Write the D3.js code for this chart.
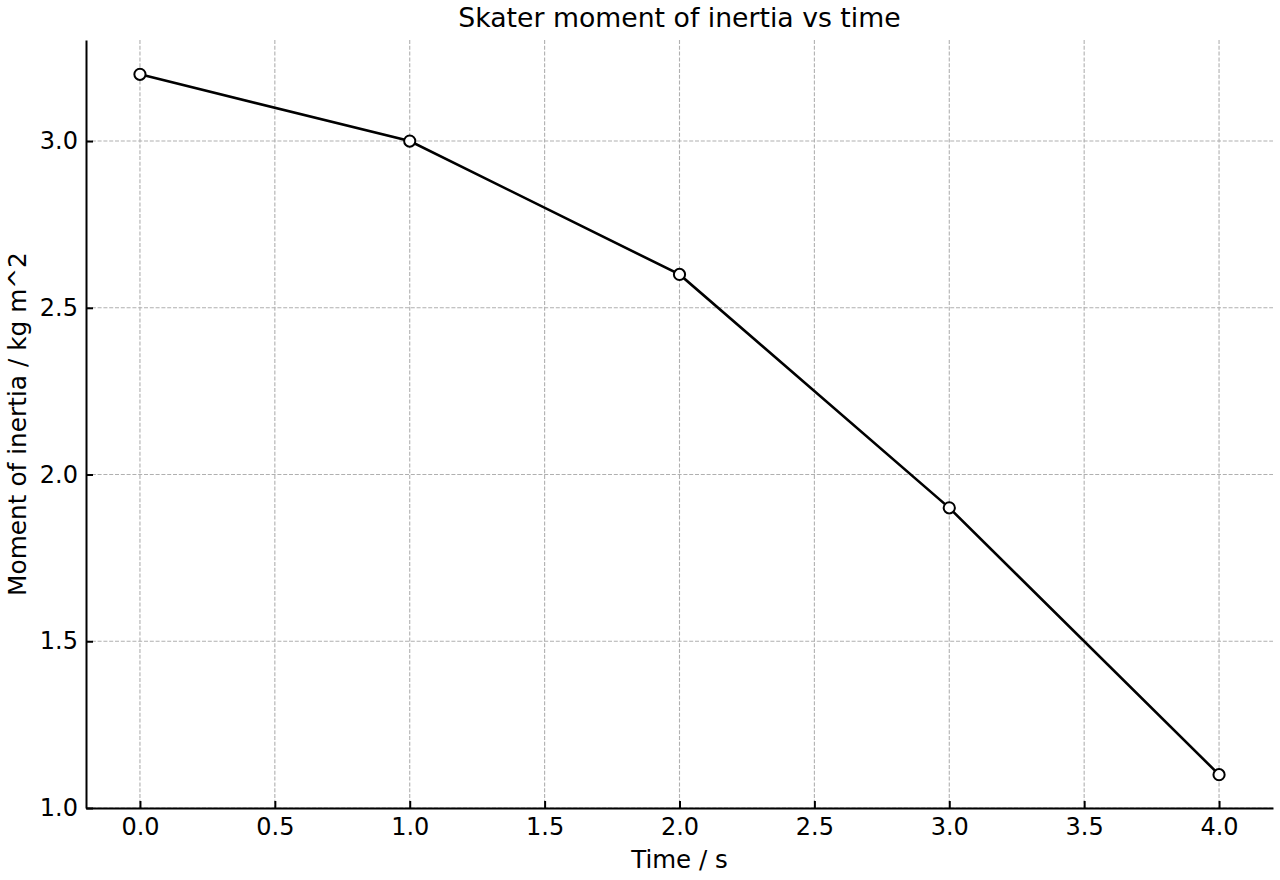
<!DOCTYPE html>
<html>
<head>
<meta charset="utf-8">
<script src="https://cdn.jsdelivr.net/npm/d3@7"></script>
<style>
  body { margin: 0; background: #fff; }
  svg { display: block; font-family: "DejaVu Sans", sans-serif; }
</style>
</head>
<body>
<svg id="chart" width="1280" height="880"></svg>
<script>
// data
const times = [0, 1, 2, 3, 4];
const inertia = [3.2, 3.0, 2.6, 1.9, 1.1];
const xTicks = [0, 0.5, 1, 1.5, 2, 2.5, 3, 3.5, 4];
const yTicks = [1.0, 1.5, 2.0, 2.5, 3.0];

const plotLeft = 86, plotRight = 1273, plotTop = 40, plotBottom = 808;

const svg = d3.select("#chart");

const x = d3.scaleLinear().domain([-0.2, 4.2]).range([plotLeft, plotRight]);
const y = d3.scaleLinear().domain([1.0, 3.303]).range([plotBottom, plotTop]);

// grid
svg.append("g")
  .selectAll("line")
  .data(xTicks)
  .enter()
  .append("line")
  .attr("x1", d => x(d)).attr("x2", d => x(d))
  .attr("y1", plotTop).attr("y2", plotBottom)
  .attr("stroke", "#b0b0b0").attr("stroke-width", 1.1)
  .attr("stroke-dasharray", "4,1.8");
svg.append("g")
  .selectAll("line")
  .data(yTicks)
  .enter()
  .append("line")
  .attr("x1", plotLeft).attr("x2", plotRight)
  .attr("y1", d => y(d)).attr("y2", d => y(d))
  .attr("stroke", "#b0b0b0").attr("stroke-width", 1.1)
  .attr("stroke-dasharray", "4,1.8");

// axes, ticks pointing inward
const xAxis = d3.axisBottom(x).tickValues(xTicks).tickFormat(d3.format(".1f"))
  .tickSizeInner(-7).tickSizeOuter(0).tickPadding(10);
const yAxis = d3.axisLeft(y).tickValues(yTicks).tickFormat(d3.format(".1f"))
  .tickSizeInner(-7).tickSizeOuter(0).tickPadding(8);

const gx = svg.append("g").attr("transform", `translate(0,${plotBottom})`).call(xAxis);
const gy = svg.append("g").attr("transform", `translate(${plotLeft},0)`).call(yAxis);

[gx, gy].forEach(g => {
  g.select(".domain").attr("stroke", "#000").attr("stroke-width", 2);
  g.selectAll(".tick line").attr("stroke", "#000").attr("stroke-width", 2);
  g.selectAll(".tick text").attr("font-size", 24).attr("fill", "#000")
    .attr("font-family", "DejaVu Sans, sans-serif");
});

// line
const line = d3.line()
  .x((d, i) => x(times[i]))
  .y(d => y(d));

svg.append("path")
  .datum(inertia)
  .attr("d", line)
  .attr("fill", "none")
  .attr("stroke", "#000")
  .attr("stroke-width", 2.6);

svg.append("g")
  .selectAll("circle")
  .data(inertia)
  .enter()
  .append("circle")
  .attr("cx", (d, i) => x(times[i]))
  .attr("cy", d => y(d))
  .attr("r", 5.6)
  .attr("fill", "#fff")
  .attr("stroke", "#000")
  .attr("stroke-width", 2);

// labels
svg.append("text")
  .attr("x", (plotLeft + plotRight) / 2).attr("y", 27)
  .attr("text-anchor", "middle")
  .attr("font-size", 26.7)
  .text("Skater moment of inertia vs time");

svg.append("text")
  .attr("x", x(2)).attr("y", 868)
  .attr("text-anchor", "middle")
  .attr("font-size", 24.5)
  .text("Time / s");

svg.append("text")
  .attr("transform", `translate(26,${(plotTop + plotBottom) / 2}) rotate(-90)`)
  .attr("text-anchor", "middle")
  .attr("font-size", 24.8)
  .text("Moment of inertia / kg m^2");
</script>
</body>
</html>
